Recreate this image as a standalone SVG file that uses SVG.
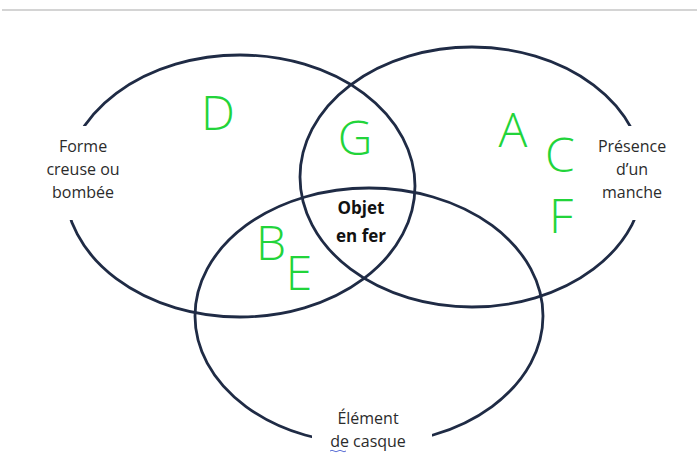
<svg xmlns="http://www.w3.org/2000/svg" width="697" height="459" viewBox="0 0 697 459">
<style>
.ring{fill:none;stroke:#1f2b45;stroke-width:2.8}
.lbl{font-family:"Open Sans","Liberation Sans",sans-serif;font-size:16px;fill:#2b2b2b;text-anchor:middle}
.bold{font-weight:bold;font-size:17px;fill:#111}
.hand{font-family:"Open Sans","Liberation Sans",sans-serif;font-size:48px;fill:#22d43a;text-anchor:middle;font-weight:300}
.gap{fill:#fff}
</style>
<rect width="697" height="459" fill="#fff"/>
<line x1="2" y1="10" x2="697" y2="10" stroke="#c6c6c6" stroke-width="1.5"/>
<g id="connectors">
<ellipse class="ring" cx="240" cy="186" rx="175" ry="131"/>
<ellipse class="ring" cx="472" cy="177" rx="172" ry="130"/>
<ellipse class="ring" cx="369" cy="316" rx="174" ry="128"/>
</g>
<g id="node-forme">
<rect class="gap" x="40" y="126" width="78" height="94"/>
<text class="lbl" x="83" y="152">Forme</text>
<text class="lbl" x="83" y="175">creuse ou</text>
<text class="lbl" x="83" y="198">bombée</text>
</g>
<g id="node-manche">
<rect class="gap" x="592" y="126" width="82" height="94"/>
<text class="lbl" x="632" y="152">Présence</text>
<text class="lbl" x="632" y="175">d’un</text>
<text class="lbl" x="632" y="198">manche</text>
</g>
<g id="node-casque">
<rect class="gap" x="312" y="408" width="120" height="51"/>
<text class="lbl" x="368" y="424">Élément</text>
<text class="lbl" x="368" y="447">de casque</text>
<path d="M330 451 q2 -1.5 4 0 t4 0 t4 0 t4 0" fill="none" stroke="#5b6fd6" stroke-width="1"/>
</g>
<g id="node-fer">
<text class="lbl bold" x="361" y="214">Objet</text>
<text class="lbl bold" x="361" y="242">en fer</text>
</g>
<g id="letters">
<text class="hand" x="218" y="130">D</text>
<text class="hand" x="355" y="155">G</text>
<text class="hand" x="513" y="147">A</text>
<text class="hand" x="560" y="172">C</text>
<text class="hand" x="561" y="233">F</text>
<text class="hand" x="271" y="260">B</text>
<text class="hand" x="299" y="290">E</text>
</g>
</svg>
